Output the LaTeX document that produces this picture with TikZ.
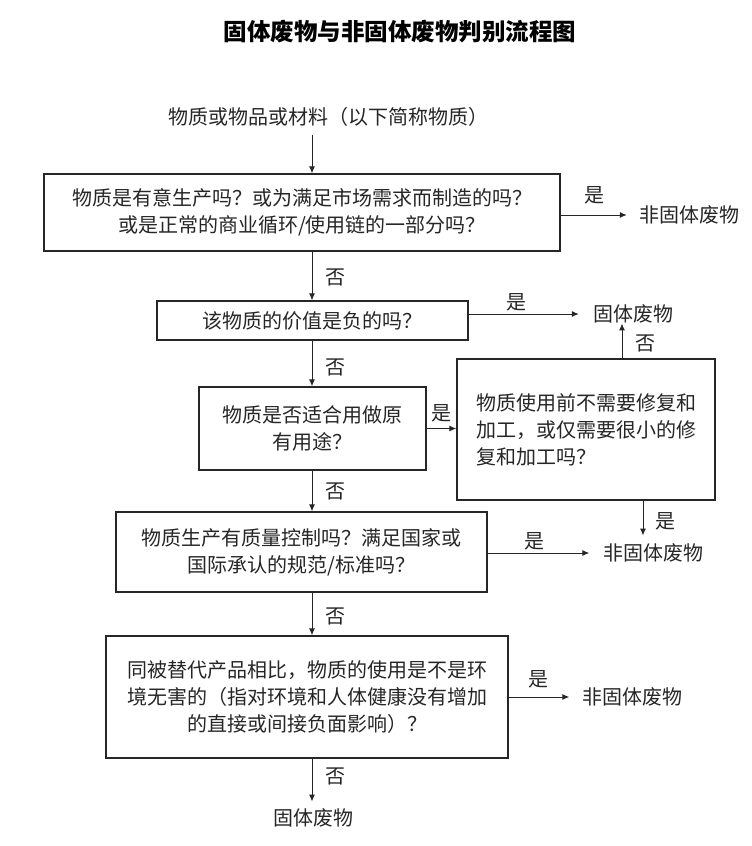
\documentclass[tikz,border=0pt]{standalone}
\usepackage{fontspec}
\setmainfont{Noto Sans CJK SC}
\usetikzlibrary{arrows.meta}
\begin{document}
\begin{tikzpicture}[x=1pt,y=-1pt,
  txt/.style={font=\fontsize{20}{27}\selectfont, text=black!85, inner sep=0pt},
  box/.style={txt, draw=black!85, line width=1.3pt, align=center},
  term/.style={txt, inner xsep=12pt, inner ysep=7pt},
  lbl/.style={txt},
  arr/.style={draw=black!85, line width=1pt, -{Latex[length=7pt,width=6pt]}}]
\useasboundingbox[fill=white] (0,0) rectangle (752,846);
% title
\node[txt, font=\fontsize{23.5}{28}\selectfont\bfseries, text=black] (title) at (400,32) {固体废物与非固体废物判别流程图};
% start
\node[term, inner ysep=8pt] (start) at (328,117) {物质或物品或材料（以下简称物质）};
\coordinate (cx) at (312,0);
\coordinate (up4) at (622,0);
\coordinate (dn4) at (643,0);
% boxes
\node[box, minimum width=516pt, minimum height=77pt] (b1) at (302,212.5)
  {物质是有意生产吗？或为满足市场需求而制造的吗？\\或是正常的商业循环/使用链的一部分吗？};
\node[box, minimum width=311pt, minimum height=39pt] (b2) at (312.5,320.5) {该物质的价值是负的吗？};
\node[box, minimum width=227pt, minimum height=83pt] (b3) at (312.5,428.5) {物质是否适合用做原\\有用途？};
\node[box, align=left, minimum width=258pt, minimum height=141pt] (b4) at (586,429.5)
  {物质使用前不需要修复和\\加工，或仅需要很小的修\\复和加工吗？};
\node[box, minimum width=371pt, minimum height=80pt] (b5) at (301.5,552)
  {物质生产有质量控制吗？满足国家或\\国际承认的规范/标准吗？};
\node[box, minimum width=402pt, minimum height=122pt] (b6) at (307,697)
  {同被替代产品相比，物质的使用是不是环\\境无害的（指对环境和人体健康没有增加\\的直接或间接负面影响）？};
% terminals
\node[term] (n1) at (689,215) {非固体废物};
\node[term, inner xsep=14pt, inner ysep=0pt] (s2) at (633,314) {固体废物};
\node[term, inner xsep=14pt, inner ysep=8pt] (n3) at (653.5,553) {非固体废物};
\node[term, inner xsep=13pt] (n4) at (632.5,697) {非固体废物};
\node[term] (s5) at (313,818) {固体废物};
% connectors
\draw[arr] (start.south -| cx) -- (b1.north -| cx);
\draw[arr] (b1.east |- n1.west) -- (n1.west);
\draw[arr] (b1.south -| cx) -- (b2.north -| cx);
\draw[arr] (b2.east |- s2.west) -- (s2.west);
\draw[arr] (b2.south -| cx) -- (b3.north -| cx);
\draw[arr] (b3.east) -- (b3.east -| b4.west);
\draw[arr] (b4.north -| up4) -- (s2.south -| up4);
\draw[arr] (b4.south -| dn4) -- (n3.north -| dn4);
\draw[arr] (b3.south -| cx) -- (b5.north -| cx);
\draw[arr] (b5.east |- n3.west) -- (n3.west);
\draw[arr] (b5.south -| cx) -- (b6.north -| cx);
\draw[arr] (b6.east |- n4.west) -- (n4.west);
\draw[arr] (b6.south -| cx) -- (s5.north -| cx);
% yes / no labels
\node[lbl] (y1) at (594,195) {是};
\node[lbl] (no1) at (335,277) {否};
\node[lbl] (y2) at (516,302) {是};
\node[lbl] (no2) at (335,367) {否};
\node[lbl] (no4) at (645,343) {否};
\node[lbl] (y3) at (441,413) {是};
\node[lbl] (y4) at (665,521) {是};
\node[lbl] (no3) at (335,491) {否};
\node[lbl] (y5) at (534,541) {是};
\node[lbl] (no5) at (335,616) {否};
\node[lbl] (y6) at (538,679) {是};
\node[lbl] (no6) at (335,776) {否};
\end{tikzpicture}
\end{document}
